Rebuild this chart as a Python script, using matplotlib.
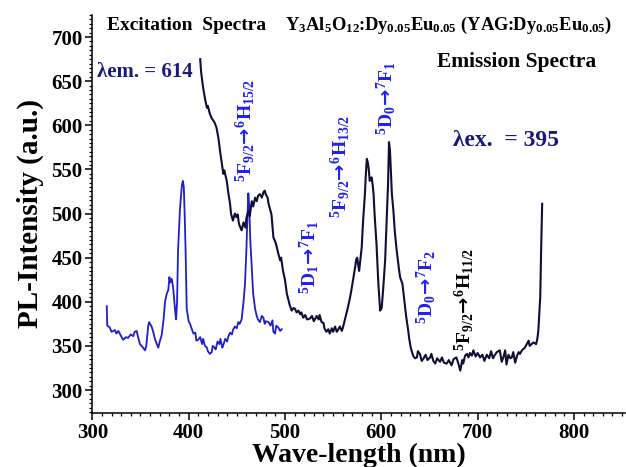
import matplotlib
matplotlib.use("Agg")
import matplotlib.pyplot as plt
from matplotlib.ticker import MultipleLocator

# ---------------- data ----------------
exc_wl = [315, 315.5, 318, 320, 323.5, 325, 327, 330, 332, 335, 337, 340, 342.5, 344, 346, 348,
          349.5, 352, 354.7, 356, 358, 359, 360, 361.5, 363, 365, 367, 368.5, 370, 372, 374,
          375.5, 377, 379, 380, 381, 382.5, 384, 386, 387, 388, 389, 391, 393, 394, 395, 396,
          397, 398, 400, 401.5, 403, 405, 407, 408, 410, 412, 414, 415, 417, 419, 420, 422,
          424, 425, 427, 428, 430, 432, 433, 435, 436, 438, 440, 441, 443, 445, 446, 448, 450,
          451.5, 453, 455, 457, 458.5, 460, 461, 462, 463, 464, 465.5, 467, 469, 470.7, 472,
          474, 476, 477.6, 479, 480, 483, 485, 487, 488, 489.7, 491, 493, 495, 496.7]
exc_int = [395, 373, 371, 366, 368, 364, 367, 361, 357, 360, 359, 363, 361, 366, 367, 358,
           352, 349, 345, 350, 372, 377, 375, 372, 367, 358, 352, 348, 355, 362, 380,
           400, 408, 414, 428, 422, 426, 415, 390, 380, 400, 458, 505, 532, 537, 530, 495,
           450, 392, 378, 375, 370, 364, 365, 356, 357, 360, 352, 358, 350, 348, 344, 341,
           343, 350, 348, 346, 355, 352, 358, 348, 351, 358, 355, 360, 365, 363, 368, 372, 370,
           377, 375, 380, 400, 420, 460, 495, 523, 505, 470, 440, 409, 392, 384, 380,
           377, 384, 382, 375, 378, 377, 373, 379, 366, 364, 373, 371, 367, 369]

em_wl = [412, 413, 415, 417, 419, 420, 422, 424, 427, 429, 431, 432.6, 434, 436, 437, 439.6,
         441, 443, 444, 446, 448, 449.6, 451, 452, 453, 455, 457, 459, 460, 462, 463.5, 465.5,
         467, 469, 470.7, 472, 474, 476, 477.6, 479, 480, 482, 483, 485, 486, 488, 490, 491.5,
         493, 495, 496, 498, 500, 502, 504, 505, 507, 509, 510.5, 512, 514, 515.7, 517, 519,
         521, 523, 526, 528, 530, 533, 535, 536, 538, 540, 541, 543, 545, 546.5, 548.6, 550,
         552, 553.8, 555, 557, 559, 560, 562, 565, 567.6, 570, 572.8, 574, 575, 576, 577, 578,
         579.7, 581, 583, 584, 585, 586, 587, 588, 589, 590, 591, 592, 593, 595, 597, 598.8,
         600, 600.5, 602, 604, 605.5, 607, 608, 609, 610, 611, 612.6, 614, 616, 618, 619.5,
         621, 622, 623.5, 624.7, 626, 628, 629, 630.6, 632, 633, 635, 637, 638, 640, 642, 644,
         646, 648, 650.7, 652, 654, 656, 658, 661, 663, 665, 668, 670, 673, 675, 678, 680, 682,
         684, 685, 687, 689, 690.5, 692, 694, 695.6, 698, 700, 702.6, 705, 707, 709.5, 712,
         714, 716, 718, 720, 723, 725, 727, 728.6, 730, 732, 734, 735.5, 737, 739, 741, 742.6,
         744, 746, 748, 749, 751, 753, 754, 756, 758, 760.7, 762, 763, 764, 765, 766, 767]
em_int = [675, 660, 643, 630, 620, 622, 613, 608, 603, 597, 585, 571, 560, 545, 549, 537,
          525, 511, 500, 492, 500, 496, 499, 490, 486, 481, 490, 484, 495, 503, 497, 514,
          508, 518, 514, 520, 522, 518, 524, 526, 522, 518, 511, 503, 499, 473, 468, 462,
          455, 447, 450, 435, 425, 409, 400, 396, 390, 393, 392, 388, 390, 386, 388, 382,
          385, 380, 381, 384, 378, 384, 380, 385, 377, 376, 370, 366, 369, 364, 370, 366,
          372, 366, 368, 372, 367, 370, 379, 392, 405, 420, 439, 448, 450, 442, 435, 445,
          462, 490, 522, 545, 562, 558, 550, 537, 540, 541, 533, 522, 500, 466, 420, 390,
          392, 394, 415, 447, 490, 533, 581, 572, 548, 522, 503, 480, 458, 440, 428,
          423, 420, 405, 394, 382, 367, 358, 348, 343, 339, 336, 337, 344, 341, 333, 336,
          340, 334, 337, 341, 333, 330, 336, 332, 337, 331, 330, 334, 328, 335, 337, 330, 322,
          334, 330, 339, 341, 337, 342, 339, 345, 338, 342, 337, 340, 333, 340, 336,
          344, 336, 340, 343, 345, 332, 338, 345, 329, 340, 336, 337, 343, 331, 339, 343,
          341, 345, 347, 348, 352, 356, 350, 352, 354, 352, 358, 367, 385, 405, 462, 511]

x_ticks = [300, 400, 500, 600, 700, 800]
y_ticks = [300, 350, 400, 450, 500, 550, 600, 650, 700]

# ---------------- style ----------------
plt.rcParams['font.family'] = ['Liberation Serif', 'DejaVu Serif']
plt.rcParams['font.weight'] = 'bold'
plt.rcParams['mathtext.fontset'] = 'custom'
plt.rcParams['mathtext.rm'] = 'Liberation Serif:bold'
plt.rcParams['mathtext.bf'] = 'Liberation Serif:bold'
plt.rcParams['mathtext.it'] = 'Liberation Serif:italic:bold'
plt.rcParams['mathtext.sf'] = 'DejaVu Sans:bold'
plt.rcParams['mathtext.fallback'] = 'stix'

fig = plt.figure(figsize=(6.26, 4.67), dpi=100)
ax = fig.add_axes([92.3 / 626, 1 - 413 / 467, (625 - 92.3) / 626, (413 - 15) / 467])

exc_color = '#1e1ecc'
em_color = '#0e0e38'
ax.plot(exc_wl, exc_int, color=exc_color, lw=1.3)
ax.plot(em_wl, em_int, color=em_color, lw=1.5)

ax.set_xlim(300, 853)
ax.set_ylim(274, 725)
ax.set_xticks(x_ticks)
ax.set_yticks(y_ticks)
ax.xaxis.set_minor_locator(MultipleLocator(10))
ax.yaxis.set_minor_locator(MultipleLocator(5))
ax.tick_params(which='major', direction='out', length=5, width=1.1, labelsize=15, pad=2)
ax.tick_params(which='minor', direction='out', length=2.5, width=0.9)
for lab in ax.get_xticklabels() + ax.get_yticklabels():
    lab.set_fontweight('bold')
ax.spines['top'].set_visible(False)
ax.spines['right'].set_visible(False)
ax.spines['left'].set_linewidth(1.1)
ax.spines['bottom'].set_linewidth(1.1)

ax.set_xlabel('Wave-length (nm)', fontsize=20, fontweight='bold', labelpad=0)
ax.set_ylabel('PL-Intensity (a.u.)', fontsize=21, fontweight='bold', labelpad=5)

# ---------------- annotations ----------------
ax.text(315, 713.5, 'Excitation  Spectra', fontsize=14, fontweight='bold', va='center', ha='left')
ax.text(500, 713.5, r'Y$_3$Al$_5$O$_{12}$:Dy$_{0.05}$Eu$_{0.05}$ (YAG:Dy$_{0.05}$Eu$_{0.05}$)',
        fontsize=13.3, fontweight='bold', va='center', ha='left')
ax.text(305, 660, 'λem. = 614', fontsize=15, fontweight='bold', color='#1a1a7a', va='center')
ax.text(658, 671.5, 'Emission Spectra', fontsize=15.5, fontweight='bold', va='center')
ax.text(674, 583, 'λex.  = 395', fontsize=17, fontweight='bold', color='#1a1a7a', va='center')

arrow = r'\!\mathsf{\rightarrow}\!'
lab_blue = '#2020f0'
rot_labels = [
    (458.6, 535.7, r'$^5\mathrm{F}_{9/2}' + arrow + r'{}^6\mathrm{H}_{15/2}$', lab_blue),
    (525.0, 409.0, r'$^5\mathrm{D}_1' + arrow + r'{}^7\mathrm{F}_1$', lab_blue),
    (557.0, 495.0, r'$^5\mathrm{F}_{9/2}' + arrow + r'{}^6\mathrm{H}_{13/2}$', lab_blue),
    (605.0, 589.0, r'$^5\mathrm{D}_0' + arrow + r'{}^7\mathrm{F}_1$', lab_blue),
    (646.5, 374.5, r'$^5\mathrm{D}_0' + arrow + r'{}^7\mathrm{F}_2$', lab_blue),
    (685.5, 344.0, r'$^5\mathrm{F}_{9/2}' + arrow + r'{}^6\mathrm{H}_{11/2}$', 'black'),
]
for x, y, s, c in rot_labels:
    ax.text(x, y, s, rotation=90, fontsize=14, fontweight='bold', color=c,
            ha='center', va='bottom')

fig.savefig('out.png', dpi=100)
